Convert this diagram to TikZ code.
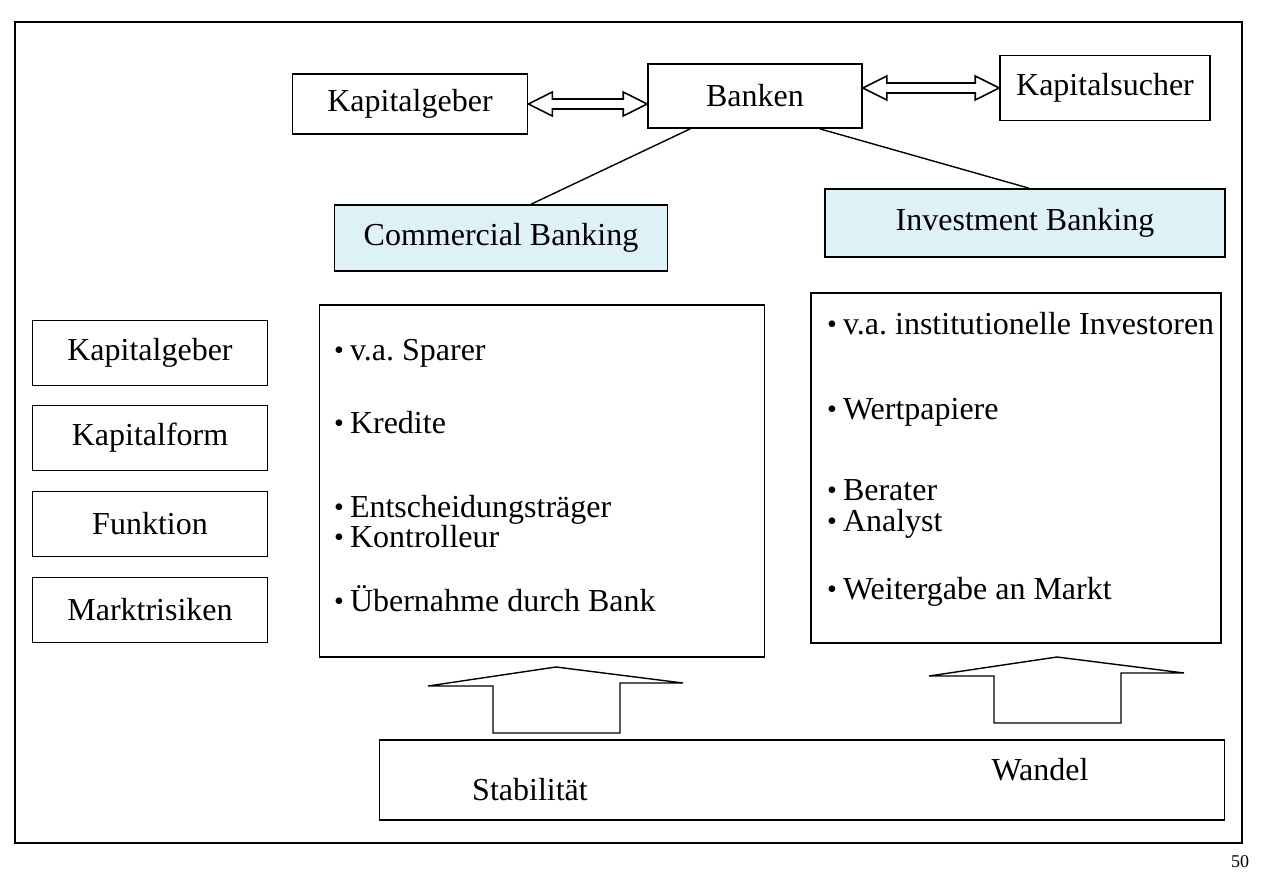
\documentclass[tikz,border=0pt]{standalone}
\usepackage{fontspec}
\setmainfont{Liberation Serif}
\usepackage{tikz}
\usetikzlibrary{positioning,calc}
\frenchspacing
\definecolor{bankblue}{RGB}{222,241,247}
\tikzstyle{box}=[draw,line width=1.6pt,inner sep=0pt,align=center]
\tikzstyle{bankbox}=[box,fill=bankblue]
\tikzstyle{item}=[anchor=base west,inner sep=0pt]
\newcommand{\bul}{\raisebox{1pt}{\fontsize{28}{28}\selectfont\textbullet}\hspace{6pt}}
% hollow double arrow between two points on one level
\newcommand{\dblarrow}[2]{%
  \draw[line width=1.6pt] (#1) -- ++(24,-12) -- ++(0,7) -- ($(#2)+(-24,-5)$) -- ++(0,-7) -- (#2)
    -- ++(-24,12) -- ++(0,-7) -- ($(#1)+(24,5)$) -- ++(0,7) -- cycle;}
% flat hollow arrow pointing up, from its tip
\newcommand{\uparr}[1]{%
  \draw[line width=1.4pt] (#1) -- ++(-128,19) -- ++(65,0) -- ++(0,47) -- ++(127,0) -- ++(0,-50) -- ++(63,0) -- cycle;}

\begin{document}
\begin{tikzpicture}[x=1pt,y=-1pt,line join=miter,font=\fontsize{32}{37}\selectfont]
\useasboundingbox (0,0) rectangle (1261,872);
\fill[white] (0,0) rectangle (1261,872);
\draw[line width=2.6pt] (15,22) rectangle (1242,843);

% top row
\node [box,minimum width=235pt,minimum height=60pt] (kg) at (410,104) {Kapitalgeber};
\node [box,minimum width=214pt,minimum height=64pt] (bk) at (755,96) {Banken};
\node [box,minimum width=210pt,minimum height=65pt] (ks) at (1105,88) {Kapitalsucher};
\coordinate (a1) at (kg.east);
\coordinate (a2) at (bk.west |- kg.east);
\coordinate (a3) at (bk.east |- ks.west);
\coordinate (a4) at (ks.west);
\dblarrow{a1}{a2}
\dblarrow{a3}{a4}

% bank types
\node [bankbox,minimum width=333pt,minimum height=66pt] (cb) at (501,238) {Commercial Banking};
\node [bankbox,minimum width=400pt,minimum height=68pt] (ib) at (1025,223) {Investment Banking};
\draw[line width=1.4pt] ($(bk.south west)!0.2!(bk.south east)$) -- ($(cb.north west)!0.59!(cb.north east)$);
\draw[line width=1.4pt] ($(bk.south west)!0.8!(bk.south east)$) -- ($(ib.north west)!0.51!(ib.north east)$);

% criteria
\node [box,minimum width=235pt,minimum height=65pt] (k1) at (150,353) {Kapitalgeber};
\node [box,minimum width=235pt,minimum height=65pt] (k2) at (150,438) {Kapitalform};
\node [box,minimum width=235pt,minimum height=65pt] (k3) at (150,524) {Funktion};
\node [box,minimum width=235pt,minimum height=65pt] (k4) at (150,610) {Marktrisiken};

% commercial banking column
\node [box,minimum width=445pt,minimum height=352pt] (cs) at (542,481) {};
\node [item] (cs1) at (334,360) {\bul v.a. Sparer};
\node [item] (cs2) at (334,433) {\bul Kredite};
\node [item] (cs3) at (334,517) {\bul Entscheidungsträger};
\node [item] (cs4) at (334,547) {\bul Kontrolleur};
\node [item] (cs5) at (334,611) {\bul Übernahme durch Bank};

% investment banking column
\node [box,minimum width=410pt,minimum height=350pt] (is) at (1016,468) {};
\node [item] (is1) at (827,334) {\bul v.a. institutionelle Investoren};
\node [item] (is2) at (827,419) {\bul Wertpapiere};
\node [item] (is3) at (827,500) {\bul Berater};
\node [item] (is4) at (827,531) {\bul Analyst};
\node [item] (is5) at (827,599) {\bul Weitergabe an Markt};

% bottom
\coordinate (t1) at (556,667);
\coordinate (t2) at (1057,657);
\uparr{t1}
\uparr{t2}
\node [box,minimum width=845pt,minimum height=80pt] (bar) at (802,780) {};
\node (stab) at (530,790) {Stabilität};
\node (wand) at (1040,770) {Wandel};

\node (pg) at (1240,862) {\fontsize{18}{18}\selectfont 50};
\end{tikzpicture}
\end{document}
